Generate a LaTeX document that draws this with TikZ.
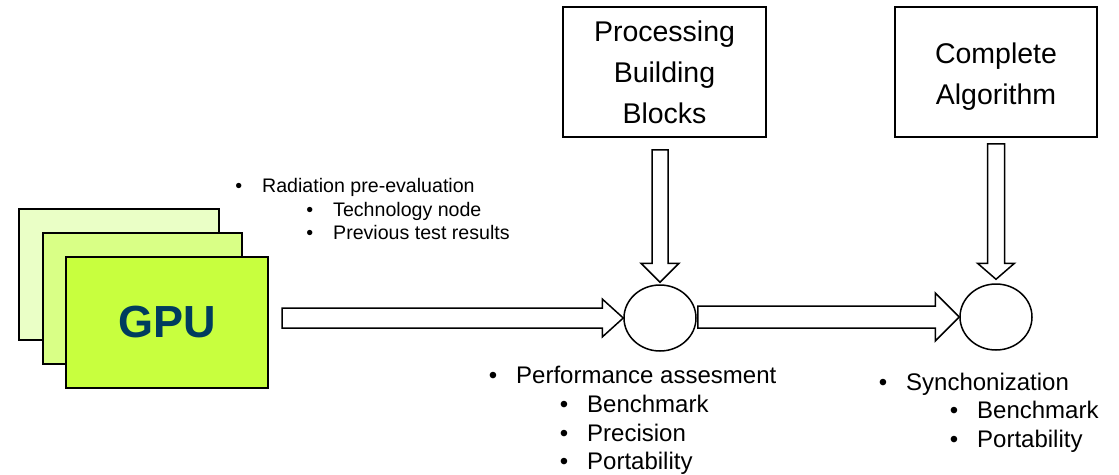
\documentclass[tikz,border=0pt]{standalone}
\usepackage{fontspec}
\setmainfont{Liberation Sans}
\usetikzlibrary{shapes.geometric,calc}
\definecolor{gpuA}{HTML}{EAFFC6}
\definecolor{gpuB}{HTML}{D9FF86}
\definecolor{gpuC}{HTML}{C8FF3E}
\definecolor{gpublue}{HTML}{003C5E}
\newcommand\fatright[5]{%
  \draw[fatarrow] let \p1=#1, \p2=#2 in
    (\x1,\y2+#3) -- (\x2-#5,\y2+#3) -- (\x2-#5,\y2+#4) -- (\x2,\y2) --
    (\x2-#5,\y2-#4) -- (\x2-#5,\y2-#3) -- (\x1,\y2-#3) -- cycle;}
\newcommand\fatdown[5]{%
  \draw[fatarrow] let \p1=#1, \p2=#2 in
    (\x2-#3,\y1) -- (\x2-#3,\y2+#5) -- (\x2-#4,\y2+#5) -- (\x2,\y2) --
    (\x2+#4,\y2+#5) -- (\x2+#3,\y2+#5) -- (\x2+#3,\y1) -- cycle;}
\begin{document}
\begin{tikzpicture}[x=1pt,y=-1pt,
  gpubox/.style={draw=black, line width=2pt, anchor=north west, inner sep=0pt,
                 minimum height=131pt},
  procbox/.style={draw=black, line width=1.5pt, align=center, inner sep=0pt,
                  minimum width=203pt, minimum height=130pt,
                  font=\fontsize{28.5}{41}\selectfont},
  junction/.style={draw=black, line width=1.5pt, ellipse, inner sep=0pt,
                   minimum width=72pt, minimum height=66pt},
  fatarrow/.style={draw=black, line width=1.5pt, fill=white, line join=miter},
  smalltxt/.style={anchor=base west, inner sep=0pt, font=\fontsize{19.6}{23}\selectfont},
  medtxt/.style={anchor=base west, inner sep=0pt, font=\fontsize{24}{28}\selectfont}]
\useasboundingbox (0,0) rectangle (1119,474);

% GPU stack
\node[gpubox, fill=gpuA, minimum width=200pt] (back) at (18,208) {};
\node[gpubox, fill=gpuB, minimum width=199pt] (mid) at (42,232) {};
\node[gpubox, fill=gpuC, minimum width=202pt, text=gpublue,
      font=\fontsize{45}{50}\selectfont\bfseries] (front) at (65,256) {GPU};

% boxes
\node[procbox] (pbb) at (664.5,72) {Processing\\Building\\Blocks};
\node[procbox, minimum width=202pt] (ca) at (996,72) {\rule{0pt}{29pt}Complete\\Algorithm};

% junctions
\node[junction] (c1) at (660,318) {};
\node[junction] (c2) at (996,317) {};

% block arrows
\fatright{($(front.east)+(13,0)$)}{(c1.west)}{10pt}{19pt}{21pt}
\fatright{($(c1.east)+(1,0)$)}{(c2.west)}{11pt}{24pt}{24pt}
\fatdown{($(pbb.south)+(0,12)$)}{($(c1.north)+(0,-2)$)}{8pt}{19pt}{19pt}
\fatdown{($(ca.south)+(0,6)$)}{($(c2.north)+(0,-4)$)}{8.5pt}{18.5pt}{16pt}

% texts
\node[smalltxt] (rad) at (262,192) {\llap{•\hspace{20pt}}Radiation pre-evaluation};
\node[smalltxt] (tech) at (333,216) {\llap{•\hspace{20pt}}Technology node};
\node[smalltxt] (prev) at (333,239) {\llap{•\hspace{20pt}}Previous test results};

\node[medtxt] (perf) at (516,383) {\llap{•\hspace{19pt}}Performance assesment};
\node[medtxt] (bench1) at (587,412) {\llap{•\hspace{19pt}}Benchmark};
\node[medtxt] (prec) at (587,441) {\llap{•\hspace{19pt}}Precision};
\node[medtxt] (port1) at (587,469) {\llap{•\hspace{19pt}}Portability};

\node[medtxt] (sync) at (906,390) {\llap{•\hspace{19pt}}Synchonization};
\node[medtxt] (bench2) at (977,418) {\llap{•\hspace{19pt}}Benchmark};
\node[medtxt] (port2) at (977,447) {\llap{•\hspace{19pt}}Portability};
\end{tikzpicture}
\end{document}
